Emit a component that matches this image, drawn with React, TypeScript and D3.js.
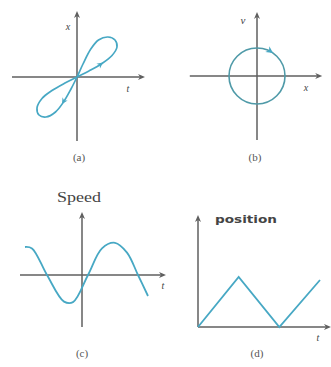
import React from "react";
import * as d3 from "d3";

const W = 331;
const H = 367;

// (a) x vs t — figure-eight loop (data units)
const loopX = [0, 0.24, 0.5, 0.7, 0.8, 0.76, 0.62, 0.43, 0.27, 0.12, 0, -0.12, -0.27, -0.43, -0.62, -0.76, -0.8, -0.7, -0.5, -0.24];
const loopY = [0, 0.12, 0.27, 0.43, 0.6, 0.74, 0.8, 0.74, 0.55, 0.26, 0, -0.24, -0.5, -0.7, -0.8, -0.76, -0.62, -0.43, -0.27, -0.12];
const loopArrows = [
  { x: 0.52, y: 0.29, dx: 1, dy: 0.75 },
  { x: -0.3, y: -0.54, dx: -0.6, dy: -1 },
];

// (b) phase portrait — circle
const circleRadius = 1;
const circleArrow = { angle: 55 };

// (c) Speed vs t
const speedT = [-2.85, -2.5, -1.75, -0.9, -0.45, 0.3, 1.0, 1.65, 2.25, 2.8, 3.3];
const speedV = [1.0, 0.95, 0, -0.95, -0.97, 0, 0.95, 1.15, 0.8, 0, -0.75];

// (d) position vs t — triangle wave
const posT = [0, 1, 2, 3];
const posX = [0, 1, 0, 0.94];

// axis extents (data units)
const axisA = { x: [-1.3, 1.36], y: [-1.28, 1.32] };
const axisB = { x: [-2.4, 2.33], y: [-2.29, 2.29] };
const axisC = { x: [-3.1, 4.2], y: [-1.86, 2.25] };
const axisD = { x: [0, 3.27], y: [0, 2.24] };

const AXIS = "#5f5f5f";
const CURVE = "#47a8c4";

function Head({ x, y, angle, len = 7, w = 3, color = AXIS }: any) {
  const a = (angle * Math.PI) / 180;
  const ux = Math.cos(a), uy = Math.sin(a);
  const px = -uy, py = ux;
  const pts = [
    [x, y],
    [x - ux * len + px * w, y - uy * len + py * w],
    [x - ux * len * 0.7, y - uy * len * 0.7],
    [x - ux * len - px * w, y - uy * len - py * w],
  ];
  return <polygon points={pts.map((p) => p.join(",")).join(" ")} fill={color} />;
}

function Axes({ xs, ys, ext }: any) {
  const x0 = xs(0), y0 = ys(0);
  const xa = xs(ext.x[0]), xb = xs(ext.x[1]);
  const ya = ys(ext.y[0]), yb = ys(ext.y[1]);
  return (
    <g>
      <line x1={xa} x2={xb - 3} y1={y0} y2={y0} stroke={AXIS} strokeWidth={1.5} />
      <line x1={x0} x2={x0} y1={ya} y2={yb + 3} stroke={AXIS} strokeWidth={1.5} />
      <Head x={xb} y={y0} angle={0} />
      <Head x={x0} y={yb} angle={-90} />
    </g>
  );
}

const serif = "'Liberation Serif', 'DejaVu Serif', serif";
const sans = "'DejaVu Sans', 'Liberation Sans', sans-serif";

export default function App() {
  // panel a
  const xa = d3.scaleLinear().domain([-1, 1]).range([27, 127]);
  const ya = d3.scaleLinear().domain([-1, 1]).range([127, 27]);
  const loopPts: [number, number][] = loopX.map((v, i) => [xa(v), ya(loopY[i])]);
  const loopPath = d3.line().curve(d3.curveCatmullRomClosed.alpha(0.5))(loopPts) || "";

  // panel b
  const xb = d3.scaleLinear().domain([-1, 1]).range([229, 285]);
  const yb = d3.scaleLinear().domain([-1, 1]).range([104, 48]);
  const rB = xb(circleRadius) - xb(0);
  const arB = (circleArrow.angle * Math.PI) / 180;
  const cax = xb(Math.cos(arB) * circleRadius);
  const cay = yb(Math.sin(arB) * circleRadius);
  const tangentDeg = -circleArrow.angle + 90;

  // panel c
  const xc = d3.scaleLinear().domain([-3, 4]).range([22, 162]);
  const yc = d3.scaleLinear().domain([-1, 1]).range([303, 247]);
  const speedPath =
    d3
      .line<number>()
      .x((_, i) => xc(speedT[i]))
      .y((v) => yc(v))
      .curve(d3.curveCatmullRom.alpha(0.5))(speedV) || "";

  // panel d
  const xd = d3.scaleLinear().domain([0, 3]).range([198, 320]);
  const yd = d3.scaleLinear().domain([0, 1]).range([327, 277]);
  const posPath =
    d3
      .line<number>()
      .x((_, i) => xd(posT[i]))
      .y((v) => yd(v))(posX) || "";

  return (
    <svg
      width={W}
      height={H}
      style={{ position: "absolute", left: 0, top: 0, display: "block", background: "#fff" }}
    >
      {/* (a) */}
      <Axes xs={xa} ys={ya} ext={axisA} />
      <path d={loopPath} fill="none" stroke={CURVE} strokeWidth={1.7} />
      {loopArrows.map((a, i) => (
        <Head
          key={i}
          x={xa(a.x)}
          y={ya(a.y)}
          angle={(Math.atan2(-a.dy, a.dx) * 180) / Math.PI}
          len={6}
          w={3}
          color={CURVE}
        />
      ))}
      <text x={68} y={30} fontFamily={serif} fontStyle="italic" fontSize={10} fill="#444" textAnchor="middle">x</text>
      <text x={128} y={92} fontFamily={serif} fontStyle="italic" fontSize={10} fill="#444" textAnchor="middle">t</text>
      <text x={79} y={161} fontFamily={serif} fontSize={11} fill="#555" textAnchor="middle">(a)</text>

      {/* (b) */}
      <Axes xs={xb} ys={yb} ext={axisB} />
      <ellipse cx={xb(0)} cy={yb(0)} rx={rB} ry={rB} fill="none" stroke="#4f9aa8" strokeWidth={1.6} />
      <Head x={cax} y={cay} angle={tangentDeg} len={7} w={3.5} color={CURVE} />
      <text x={243} y={24} fontFamily={serif} fontStyle="italic" fontSize={11} fill="#444" textAnchor="middle">v</text>
      <text x={306} y={91} fontFamily={serif} fontStyle="italic" fontSize={10} fill="#444" textAnchor="middle">x</text>
      <text x={255} y={161} fontFamily={serif} fontSize={11} fill="#555" textAnchor="middle">(b)</text>

      {/* (c) */}
      <Axes xs={xc} ys={yc} ext={axisC} />
      <path d={speedPath} fill="none" stroke={CURVE} strokeWidth={1.8} />
      <text x={79} y={202} fontFamily={serif} fontSize={14} fill="#444" textAnchor="middle" textLength={44} lengthAdjust="spacingAndGlyphs">Speed</text>
      <text x={163} y={289} fontFamily={serif} fontStyle="italic" fontSize={10} fill="#444" textAnchor="middle">t</text>
      <text x={82} y={357} fontFamily={serif} fontSize={11} fill="#555" textAnchor="middle">(c)</text>

      {/* (d) */}
      <Axes xs={xd} ys={yd} ext={axisD} />
      <path d={posPath} fill="none" stroke={CURVE} strokeWidth={1.8} strokeLinejoin="miter" />
      <text x={215} y={223} fontFamily={sans} fontWeight="bold" fontSize={10} fill="#444" textLength={62} lengthAdjust="spacingAndGlyphs">position</text>
      <text x={318} y={341} fontFamily={serif} fontStyle="italic" fontSize={10} fill="#444" textAnchor="middle">t</text>
      <text x={257} y={357} fontFamily={serif} fontSize={11} fill="#555" textAnchor="middle">(d)</text>
    </svg>
  );
}
